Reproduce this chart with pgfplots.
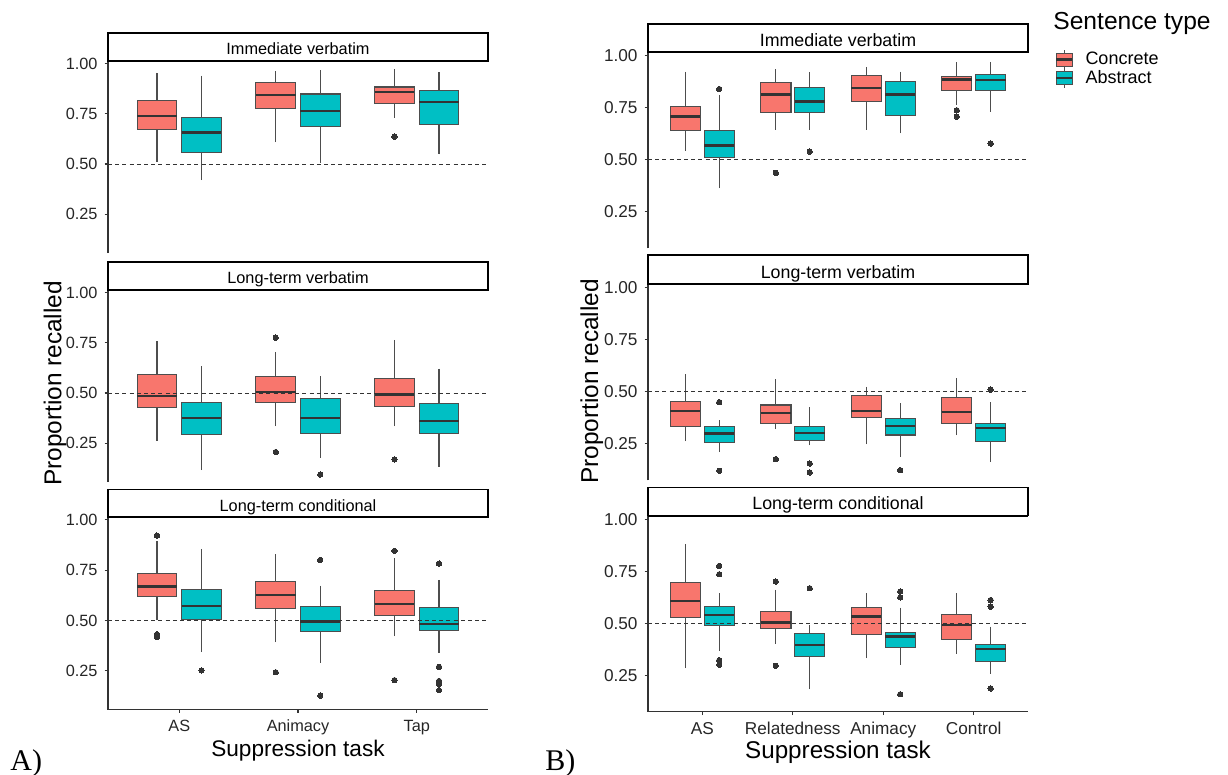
\documentclass[border=0pt]{standalone}
\usepackage{fontspec}
\setmainfont{Liberation Sans}
\newfontfamily\serifA{Liberation Serif}
\usepackage{pgfplots}
\pgfplotsset{compat=1.18}
\usepgfplotslibrary{statistics}
\definecolor{cc}{HTML}{F8766D}
\definecolor{ca}{HTML}{00BFC4}
\definecolor{bl}{HTML}{4D4D4D}
\definecolor{md}{HTML}{333333}
\definecolor{ax}{HTML}{333333}
\newcommand{\bx}[7]{\addplot[draw=bl, fill=#1, line width=0.55pt, boxplot prepared={draw position=#2, lower whisker=#3, lower quartile=#4, median=#5, upper quartile=#6, upper whisker=#7}] coordinates {};}
\newcommand{\bxo}[8]{\addplot[draw=bl, fill=#1, line width=0.55pt, mark=*, mark size=1.35pt, mark options={draw=md, fill=md, line width=0pt}, boxplot prepared={draw position=#2, lower whisker=#3, lower quartile=#4, median=#5, upper quartile=#6, upper whisker=#7}] table[row sep=\\, y index=0] {y\\ #8};}
\pgfplotsset{
  facet/.style={
    scale only axis, width=190pt, anchor=north west,
    axis y line*=left,
    ytick={0.25,0.5,0.75,1}, yticklabels={0.25,0.50,0.75,1.00},
    tick align=outside, major tick length=1.7pt,
    axis line style={-, draw=ax, line width=0.55pt},
    every tick/.style={draw=ax, line width=0.55pt},
    tick label style={text=black!85},
    /pgf/number format/assume math mode=true,
    boxplot/draw direction=y,
    boxplot/box extend=0.335,
    boxplot/whisker extend=0,
    boxplot/every median/.style={draw=md, line width=1.2pt},
    boxplot/every whisker/.style={draw=bl, line width=0.6pt},
    clip=false,
  },
  Aax/.style={facet, height=96pt, xmin=0.4, xmax=3.6, ymin=0.058, ymax=1.012, tick label style={font=\fontsize{8.15}{9}\selectfont}},
  Bax/.style={facet, height=98pt, xmin=0.4, xmax=4.6, ymin=0.0737, ymax=1.016, tick label style={font=\fontsize{8.6}{10}\selectfont}},
  topf/.style={axis x line=none},
  botf/.style={axis x line*=bottom},
}
\newcommand{\hl}[1]{\addplot[draw=ax, line width=0.5pt, dash pattern=on 2pt off 1.6pt, forget plot] coordinates {(0.4,0.5) (#1,0.5)};}
\newcommand{\strip}[6]{% x1 x2 ytop ybot baseline text
  \draw[draw=black, line width=0.6pt, fill=white] (#1,#3) rectangle (#2,#4);
  \draw[black, line width=1.1pt] (#1,#4) -- (#2,#4);
  \node[anchor=base, inner sep=0pt] at ({(#1+#2)/2},#5) {#6};}
\begin{document}
\begin{tikzpicture}
\path[use as bounding box] (0pt,0pt) rectangle (614pt,-387.5pt);
% ---------- Panel A ----------
\begin{axis}[Aax, topf, at={(54pt,-30.5pt)}]
\bx{cc}{0.8125}{0.509}{0.672}{0.740}{0.814}{0.954}
\bx{ca}{1.1875}{0.420}{0.558}{0.656}{0.730}{0.939}
\bx{cc}{1.8125}{0.608}{0.777}{0.842}{0.903}{0.962}
\bx{ca}{2.1875}{0.505}{0.688}{0.763}{0.848}{0.967}
\bxo{cc}{2.8125}{0.731}{0.799}{0.857}{0.883}{0.970}{0.636\\}
\bx{ca}{3.1875}{0.548}{0.698}{0.807}{0.866}{0.957}
\hl{3.6}
\end{axis}
\begin{axis}[Aax, topf, at={(54pt,-145pt)}]
\bx{cc}{0.8125}{0.263}{0.428}{0.484}{0.593}{0.757}
\bx{ca}{1.1875}{0.117}{0.292}{0.375}{0.453}{0.634}
\bxo{cc}{1.8125}{0.335}{0.451}{0.504}{0.583}{0.704}{0.775\\0.207\\}
\bxo{ca}{2.1875}{0.178}{0.300}{0.375}{0.474}{0.584}{0.095\\}
\bxo{cc}{2.8125}{0.335}{0.431}{0.493}{0.574}{0.764}{0.170\\}
\bx{ca}{3.1875}{0.134}{0.297}{0.361}{0.448}{0.621}
\hl{3.6}
\end{axis}
\begin{axis}[Aax, botf, at={(54pt,-258.75pt)}, xtick={1,2,3}, xticklabels={AS,Animacy,Tap}]
\bxo{cc}{0.8125}{0.503}{0.618}{0.669}{0.733}{0.896}{0.922\\0.432\\0.417\\}
\bxo{ca}{1.1875}{0.343}{0.507}{0.573}{0.656}{0.856}{0.252\\}
\bxo{cc}{1.8125}{0.391}{0.561}{0.626}{0.695}{0.829}{0.243\\}
\bxo{ca}{2.1875}{0.291}{0.444}{0.495}{0.568}{0.674}{0.801\\0.127\\}
\bxo{cc}{2.8125}{0.421}{0.525}{0.581}{0.651}{0.810}{0.846\\0.204\\}
\bxo{ca}{3.1875}{0.339}{0.452}{0.483}{0.565}{0.702}{0.783\\0.270\\0.200\\0.185\\0.154\\}
\hl{3.6}
\end{axis}
% ---------- Panel B ----------
\begin{axis}[Bax, topf, at={(324pt,-26.2pt)},
  legend style={at={(1.055,1.037)}, anchor=north west, draw=none, fill=none, font=\fontsize{9}{10}\selectfont, row sep=-0.6pt, column sep=5.5pt, nodes={inner sep=0.5pt}, cells={anchor=west}}]
\addlegendimage{legend image code/.code={
  \draw[bl, line width=0.5pt] (4pt,-4.75pt) -- (4pt,4.75pt);
  \draw[bl, fill=cc, line width=0.5pt] (0pt,-3.25pt) rectangle (8pt,3.25pt);
  \draw[md, line width=1.1pt] (0pt,0pt) -- (8pt,0pt);}}
\addlegendentry{Concrete}
\addlegendimage{legend image code/.code={
  \draw[bl, line width=0.5pt] (4pt,-4.75pt) -- (4pt,4.75pt);
  \draw[bl, fill=ca, line width=0.5pt] (0pt,-3.25pt) rectangle (8pt,3.25pt);
  \draw[md, line width=1.1pt] (0pt,0pt) -- (8pt,0pt);}}
\addlegendentry{Abstract}
\bx{cc}{0.8125}{0.543}{0.639}{0.707}{0.757}{0.923}
\bxo{ca}{1.1875}{0.362}{0.509}{0.568}{0.640}{0.810}{0.840\\}
\bxo{cc}{1.8125}{0.643}{0.727}{0.813}{0.872}{0.936}{0.437\\}
\bxo{ca}{2.1875}{0.643}{0.727}{0.779}{0.848}{0.920}{0.539\\}
\bx{cc}{2.8125}{0.643}{0.779}{0.846}{0.907}{0.946}
\bx{ca}{3.1875}{0.627}{0.712}{0.813}{0.878}{0.923}
\bxo{cc}{3.8125}{0.762}{0.832}{0.886}{0.898}{0.968}{0.738\\0.707\\}
\bxo{ca}{4.1875}{0.731}{0.832}{0.882}{0.910}{0.971}{0.578\\}
\hl{4.6}
\end{axis}
\begin{axis}[Bax, topf, at={(324pt,-142.2pt)}]
\bx{cc}{0.8125}{0.261}{0.332}{0.407}{0.452}{0.585}
\bxo{ca}{1.1875}{0.210}{0.256}{0.300}{0.332}{0.362}{0.450\\0.120\\}
\bxo{cc}{1.8125}{0.319}{0.348}{0.397}{0.436}{0.559}{0.176\\}
\bxo{ca}{2.1875}{0.242}{0.264}{0.303}{0.335}{0.425}{0.155\\0.112\\}
\bx{cc}{2.8125}{0.247}{0.378}{0.407}{0.482}{0.524}
\bxo{ca}{3.1875}{0.186}{0.292}{0.335}{0.370}{0.444}{0.123\\}
\bx{cc}{3.8125}{0.290}{0.348}{0.402}{0.471}{0.567}
\bxo{ca}{4.1875}{0.162}{0.260}{0.325}{0.348}{0.450}{0.510\\}
\hl{4.6}
\end{axis}
\begin{axis}[Bax, botf, at={(324pt,-257.9pt)}, xtick={1,2,3,4}, xticklabels={AS,Relatedness,Animacy,Control}]
\bx{cc}{0.8125}{0.282}{0.525}{0.607}{0.695}{0.881}
\bxo{ca}{1.1875}{0.366}{0.488}{0.539}{0.579}{0.643}{0.775\\0.735\\0.322\\0.300\\}
\bxo{cc}{1.8125}{0.399}{0.475}{0.504}{0.558}{0.661}{0.700\\0.295\\}
\bxo{ca}{2.1875}{0.181}{0.340}{0.395}{0.449}{0.491}{0.668\\}
\bx{cc}{2.8125}{0.330}{0.444}{0.531}{0.573}{0.643}
\bxo{ca}{3.1875}{0.301}{0.383}{0.435}{0.457}{0.574}{0.652\\0.624\\0.158\\}
\bx{cc}{3.8125}{0.353}{0.422}{0.491}{0.542}{0.643}
\bxo{ca}{4.1875}{0.256}{0.314}{0.377}{0.396}{0.483}{0.611\\0.579\\0.186\\}
\hl{4.6}
\end{axis}
% ---------- strips ----------
\begingroup
\fontsize{8.15}{9}\selectfont
\strip{54pt}{244pt}{-16.5pt}{-30.5pt}{-27.5pt}{Immediate verbatim}
\strip{54pt}{244pt}{-131pt}{-145pt}{-142pt}{Long-term verbatim}
\strip{54pt}{244pt}{-244.65pt}{-258.65pt}{-255.65pt}{Long-term conditional}
\fontsize{8.9}{10}\selectfont
\strip{324pt}{514pt}{-12pt}{-26.2pt}{-23.35pt}{Immediate verbatim}
\strip{324pt}{514pt}{-127.5pt}{-142.2pt}{-139.15pt}{Long-term verbatim}
\strip{324pt}{514pt}{-243.65pt}{-257.9pt}{-254.65pt}{Long-term conditional}
\endgroup
% ---------- titles ----------
\node[rotate=90, font=\fontsize{12.2}{14}\selectfont, inner sep=0pt] at (27.5pt,-191.75pt) {Proportion recalled};
\node[rotate=90, font=\fontsize{12.2}{14}\selectfont, inner sep=0pt] at (295.85pt,-190.75pt) {Proportion recalled};
\node[anchor=base, font=\fontsize{11.3}{13}\selectfont, inner sep=0pt] at (149pt,-378pt) {Suppression task};
\node[anchor=base, font=\fontsize{12.1}{14}\selectfont, inner sep=0pt] at (419pt,-379.2pt) {Suppression task};
\node[anchor=base west, font=\serifA\fontsize{15}{17}\selectfont, inner sep=0pt] at (5pt,-385pt) {A)};
\node[anchor=base west, font=\serifA\fontsize{15}{17}\selectfont, inner sep=0pt] at (272.5pt,-385pt) {B)};
\node[anchor=base west, font=\fontsize{12.3}{14}\selectfont, inner sep=0pt] at (526.5pt,-14.7pt) {Sentence type};
\end{tikzpicture}
\end{document}
